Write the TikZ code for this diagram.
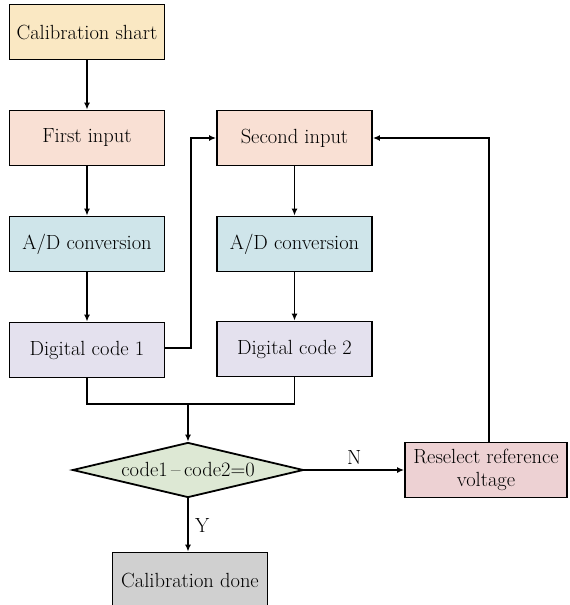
\documentclass[tikz,border=0pt]{standalone}
\usepackage{fontspec}
\setmainfont{Latin Modern Roman}
\usetikzlibrary{shapes.geometric,arrows.meta}
\definecolor{cyel}{HTML}{FAE8C3}
\definecolor{cpeach}{HTML}{F9E0D4}
\definecolor{cblue}{HTML}{CFE5EA}
\definecolor{clav}{HTML}{E4E1EE}
\definecolor{cgreen}{HTML}{DDE8D4}
\definecolor{cpink}{HTML}{EDD1D3}
\definecolor{cgray}{HTML}{D0D0D0}
\tikzset{
  box/.style={draw=black, line width=1.8pt, rectangle, minimum width=155pt, minimum height=55pt, inner sep=2pt, align=center, font=\fontsize{20.5}{23}\selectfont},
  conn/.style={line width=1.4pt, -{Latex[length=7pt,width=6pt]}},
  plain/.style={line width=1.4pt},
  lbl/.style={font=\fontsize{20.5}{23}\selectfont}
}
\begin{document}
\begin{tikzpicture}[x=1pt,y=-1pt]
\useasboundingbox (0,0) rectangle (570,605);
\node[box, fill=cyel] (cs) at (87,32) {Calibration shart};
\node[box, fill=cpeach] (fi) at (87,138) {First input};
\node[box, fill=cblue] (ad1) at (87,244) {A/D conversion};
\node[box, fill=clav] (dc1) at (87,350) {Digital code 1};
\node[box, fill=cpeach] (si) at (294.5,138) {Second input};
\node[box, fill=cblue] (ad2) at (294.5,244) {A/D conversion};
\node[box, fill=clav] (dc2) at (294.5,349) {Digital code 2};
\node[draw=black, line width=1.8pt, shape=diamond, shape aspect=4.2, fill=cgreen, inner sep=0pt, minimum width=231pt, minimum height=55pt, font=\fontsize{20.5}{23}\selectfont] (dia) at (188,470) {code1\,--\,code2=0};
\node[box, fill=cpink, minimum width=162pt, minimum height=55pt, inner sep=1pt] (rs) at (486,470) {Reselect reference\\voltage};
\node[box, fill=cgray] (cd) at (190,580) {Calibration done};

\coordinate (j1) at (191,138);
\coordinate (ml) at (87,404);
\coordinate (mr) at (294.5,404);
\coordinate (mm) at (188,404);
\coordinate (jr) at (489,138);

\draw[conn] (cs) -- (fi);
\draw[conn] (fi) -- (ad1);
\draw[conn] (ad1) -- (dc1);
\draw[conn] (si) -- (ad2);
\draw[conn] (ad2) -- (dc2);
\draw[conn] (dc1.east |- 0,348) -| (j1) -- (si.west);
\draw[plain] (dc1.south) -- (ml) -- (mr) -- (dc2.south);
\draw[conn] (mm) -- (dia.north);
\draw[conn] (dia.east) -- node[lbl, above=1pt] {N} (rs.west);
\draw[conn] (rs.north -| jr) -- (jr) -- (si.east);
\draw[conn] (dia.south -| mm) -- node[lbl, right=3pt] {Y} (cd.north -| mm);
\end{tikzpicture}
\end{document}
